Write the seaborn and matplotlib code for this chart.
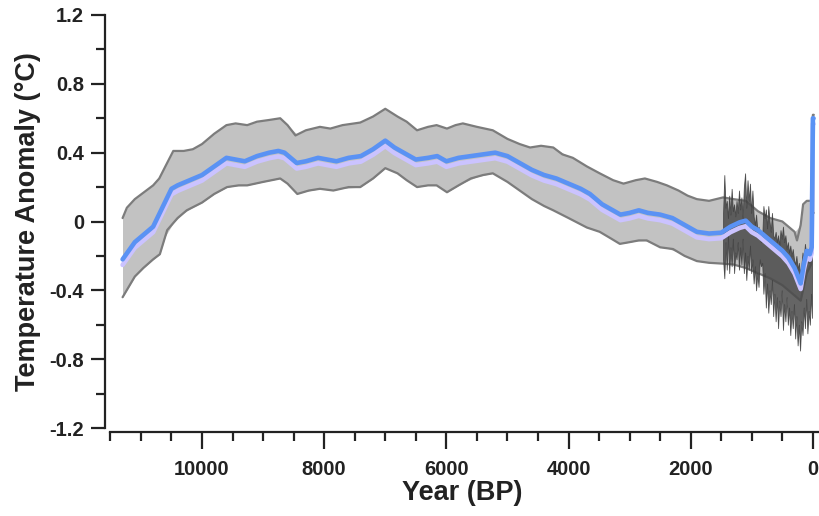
import matplotlib
matplotlib.use("Agg")
import matplotlib.pyplot as plt
import matplotlib.patheffects as pe
from matplotlib.ticker import MultipleLocator
import numpy as np
import pandas as pd
import seaborn as sns

# mean reconstruction (blue)
blue_year = [11300, 11100, 10900, 10800, 10650, 10500, 10400, 10200, 10000, 9800,
             9600, 9450, 9300, 9100, 8900, 8750, 8650, 8450, 8300, 8100,
             7950, 7800, 7600, 7400, 7200, 7000, 6850, 6700, 6500, 6300,
             6150, 6000, 5800, 5600, 5400, 5200, 5000, 4800, 4600, 4400,
             4200, 4000, 3800, 3650, 3450, 3300, 3150, 3000, 2850, 2700,
             2500, 2300, 2100, 1900, 1700, 1500, 1350, 1200, 1100, 1000,
             900, 800, 700, 600, 500, 400, 300, 200, 150, 100,
             50, 20, 0, -10]
blue_temp = [-0.22, -0.12, -0.06, -0.03, 0.08, 0.19, 0.21, 0.24, 0.27, 0.32,
             0.37, 0.36, 0.35, 0.38, 0.40, 0.41, 0.40, 0.34, 0.35, 0.37,
             0.36, 0.35, 0.37, 0.38, 0.42, 0.47, 0.43, 0.40, 0.36, 0.37,
             0.38, 0.35, 0.37, 0.38, 0.39, 0.40, 0.38, 0.34, 0.30, 0.27,
             0.25, 0.22, 0.19, 0.16, 0.10, 0.07, 0.04, 0.05, 0.065, 0.05,
             0.04, 0.02, -0.02, -0.06, -0.07, -0.065, -0.03, -0.005, 0.005, -0.03,
             -0.05, -0.08, -0.11, -0.14, -0.17, -0.21, -0.27, -0.36, -0.25, -0.17,
             -0.19, -0.15, 0.60, 0.60]

# uncertainty envelope (light grey)
up_year = [11300, 11230, 11100, 10950, 10800, 10700, 10600, 10470, 10300, 10150,
           10000, 9800, 9600, 9450, 9260, 9100, 8900, 8720, 8600, 8470,
           8300, 8070, 7900, 7700, 7410, 7200, 7000, 6800, 6650, 6480,
           6300, 6160, 5990, 5850, 5730, 5500, 5240, 5000, 4800, 4630,
           4450, 4250, 4100, 3930, 3700, 3490, 3270, 3100, 2900, 2750,
           2550, 2390, 2200, 2050, 1900, 1700, 1470, 1300, 1100, 900,
           700, 500, 400, 300, 260, 200, 160, 100, 30, 0, -15]
up_temp = [0.02, 0.08, 0.13, 0.17, 0.21, 0.25, 0.32, 0.41, 0.41, 0.42,
           0.45, 0.51, 0.56, 0.57, 0.56, 0.58, 0.59, 0.60, 0.56, 0.50,
           0.53, 0.55, 0.54, 0.56, 0.575, 0.61, 0.655, 0.61, 0.58, 0.53,
           0.55, 0.56, 0.54, 0.56, 0.57, 0.55, 0.53, 0.48, 0.45, 0.43,
           0.44, 0.43, 0.39, 0.37, 0.32, 0.28, 0.24, 0.22, 0.24, 0.25,
           0.23, 0.21, 0.18, 0.15, 0.13, 0.12, 0.14, 0.13, 0.12, 0.06,
           0.02, 0.00, -0.03, -0.06, -0.11, -0.02, 0.10, 0.12, 0.12, 0.62, 0.62]
lo_year = [11300, 11200, 11100, 10960, 10800, 10690, 10570, 10400, 10250, 10000,
           9800, 9590, 9400, 9260, 9000, 8720, 8600, 8440, 8250, 8070,
           7850, 7600, 7410, 7200, 7000, 6800, 6650, 6480, 6300, 6160,
           5990, 5800, 5600, 5400, 5240, 5000, 4800, 4600, 4400, 4250,
           4000, 3700, 3490, 3300, 3160, 3000, 2850, 2720, 2500, 2290,
           2100, 1900, 1700, 1470, 1300, 1100, 900, 700, 500, 300,
           200, 100, 30, 0, -15]
lo_temp = [-0.44, -0.38, -0.32, -0.27, -0.22, -0.19, -0.05, 0.02, 0.065, 0.11,
           0.16, 0.20, 0.21, 0.21, 0.23, 0.25, 0.22, 0.16, 0.18, 0.19,
           0.18, 0.20, 0.20, 0.25, 0.31, 0.28, 0.24, 0.20, 0.21, 0.21,
           0.17, 0.21, 0.25, 0.27, 0.28, 0.23, 0.18, 0.13, 0.09, 0.065,
           0.02, -0.035, -0.06, -0.10, -0.13, -0.12, -0.11, -0.11, -0.15, -0.16,
           -0.20, -0.23, -0.24, -0.245, -0.25, -0.27, -0.30, -0.33, -0.37, -0.43,
           -0.46, -0.30, -0.25, 0.05, 0.05]

# high-resolution record, last ~1500 years (dark grey)
hr_year = [1470, 1450, 1430, 1410, 1390, 1370, 1350, 1330, 1310, 1290,
           1270, 1250, 1230, 1210, 1190, 1170, 1150, 1130, 1110, 1090,
           1070, 1050, 1030, 1010, 990, 970, 950, 930, 910, 890,
           870, 850, 830, 810, 790, 770, 750, 730, 710, 690,
           670, 650, 630, 610, 590, 570, 550, 530, 510, 490,
           470, 450, 430, 410, 390, 370, 350, 330, 310, 290,
           270, 250, 230, 210, 190, 170, 150, 130, 110, 90,
           70, 50, 30, 15]
hr_up = [0.05, 0.27, 0.08, 0.12, 0.02, 0.15, 0.04, 0.19, 0.06, 0.10,
         0.03, 0.12, 0.05, 0.18, 0.07, 0.14, 0.02, 0.20, 0.28, 0.08,
         0.24, 0.12, 0.22, 0.05, 0.18, 0.03, -0.02, 0.04, -0.05, -0.03,
         -0.10, -0.12, -0.10, 0.09, 0.02, 0.07, -0.04, 0.09, 0.00, -0.06,
         0.05, -0.08, -0.10, -0.06, -0.12, -0.08, -0.14, -0.05, -0.10, -0.03,
         -0.12, -0.08, -0.16, -0.12, -0.18, -0.14, -0.20, -0.16, -0.22, -0.25,
         -0.20, -0.28, -0.24, -0.30, -0.26, -0.18, -0.22, -0.13, -0.20, -0.16,
         -0.24, -0.18, -0.22, -0.15]
hr_lo = [-0.22, -0.33, -0.12, -0.28, -0.08, -0.30, -0.15, -0.26, -0.10, -0.30,
         -0.18, -0.22, -0.12, -0.28, -0.15, -0.25, -0.10, -0.30, -0.18, -0.34,
         -0.20, -0.28, -0.14, -0.30, -0.22, -0.36, -0.26, -0.40, -0.30, -0.38,
         -0.22, -0.26, -0.24, -0.42, -0.30, -0.50, -0.36, -0.53, -0.40, -0.48,
         -0.34, -0.55, -0.42, -0.58, -0.44, -0.62, -0.46, -0.55, -0.40, -0.63,
         -0.48, -0.58, -0.44, -0.60, -0.50, -0.66, -0.52, -0.62, -0.48, -0.68,
         -0.55, -0.72, -0.60, -0.75, -0.58, -0.66, -0.50, -0.62, -0.45, -0.65,
         -0.52, -0.60, -0.42, -0.56]

y_ticks = [-1.2, -0.8, -0.4, 0, 0.4, 0.8, 1.2]
y_ticklabels = ["-1.2", "-0.8", "-0.4", "0", "0.4", "0.8", "1.2"]
x_ticks = [10000, 8000, 6000, 4000, 2000, 0]

sns.set_style("ticks")
plt.rcParams["font.family"] = ["Liberation Sans", "DejaVu Sans"]

fig = plt.figure(figsize=(8.2, 5.16), dpi=100)
ax = fig.add_axes([105 / 820, 88 / 516, 714 / 820, 413 / 516])

# light grey envelope, each edge interpolated onto the other's years
up_on_lo = np.interp(lo_year[::-1], up_year[::-1], up_temp[::-1])[::-1]
lo_on_up = np.interp(up_year[::-1], lo_year[::-1], lo_temp[::-1])[::-1]
ax.fill_between(lo_year, lo_temp, up_on_lo, color="#c2c2c2", lw=0, zorder=1)
ax.fill_between(up_year, lo_on_up, up_temp, color="#c2c2c2", lw=0, zorder=1)
ax.plot(up_year, up_temp, color="#7c7c7c", lw=1.6, zorder=2)
ax.plot(lo_year, lo_temp, color="#7c7c7c", lw=1.6, zorder=2)

ax.fill_between(hr_year, hr_lo, hr_up, color="#4a4a4a", alpha=0.85, lw=0.6,
                edgecolor="#3c3c3c", zorder=3)

df = pd.DataFrame({"year": blue_year, "temp": blue_temp})
sns.lineplot(data=df, x="year", y="temp", estimator=None, sort=False, ax=ax,
             color="#5a92f4", lw=3.3, zorder=4,
             path_effects=[pe.SimpleLineShadow(offset=(0, -4), shadow_color="#cbc3ff", alpha=1),
                           pe.Normal()])

ax.set_xlim(11588, -100)
ax.set_ylim(-1.2, 1.2)
ax.set_yticks(y_ticks)
ax.set_yticklabels(y_ticklabels)
ax.yaxis.set_minor_locator(MultipleLocator(0.2))
ax.set_xticks(x_ticks)
ax.xaxis.set_minor_locator(MultipleLocator(500))

sns.despine(ax=ax)
for s in ["left", "bottom"]:
    ax.spines[s].set_linewidth(1.6)
    ax.spines[s].set_color("#222222")
ax.spines["bottom"].set_position(("outward", 3))
ax.spines["bottom"].set_bounds(11500, -100)

ax.tick_params(axis="both", which="major", direction="out", width=1.6, color="#222222",
               labelsize=14.5)
ax.tick_params(axis="y", which="major", length=10, pad=5)
ax.tick_params(axis="x", which="major", length=12, pad=8)
ax.tick_params(axis="both", which="minor", direction="out", width=1.6, color="#222222", length=6.5)
for lab in ax.get_xticklabels() + ax.get_yticklabels():
    lab.set_fontweight("bold")
    lab.set_color("#222222")

ax.set_xlabel("Year (BP)", fontsize=19.5, fontweight="bold", color="#222222", labelpad=1)
ax.set_ylabel("Temperature Anomaly (\u00b0C)", fontsize=19.5, fontweight="bold", color="#222222", labelpad=6)

fig.savefig("out.png", dpi=100)
